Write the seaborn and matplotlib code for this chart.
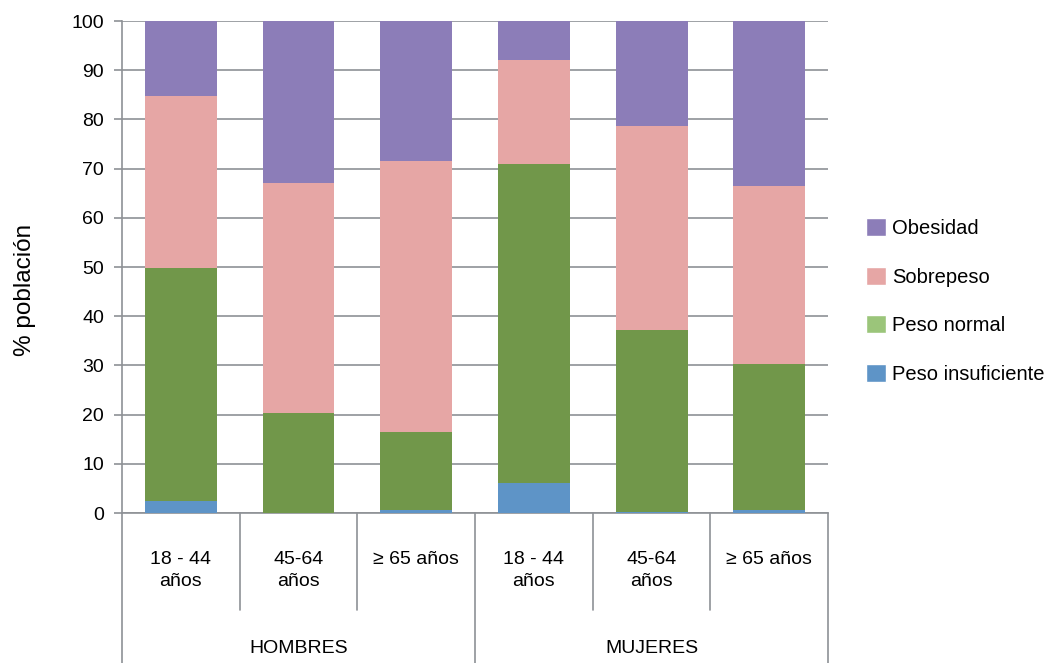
import matplotlib
matplotlib.use("Agg")
import matplotlib.pyplot as plt
from matplotlib.patches import Patch
import seaborn as sns
import pandas as pd
import numpy as np

grupos = ["H1", "H2", "H3", "M1", "M2", "M3"]
etiquetas = ["18 - 44\naños", "45-64\naños", "≥ 65 años", "18 - 44\naños", "45-64\naños", "≥ 65 años"]
sexos = ["HOMBRES", "MUJERES"]

insuficiente = [2.4, 0.1, 0.7, 6.1, 0.3, 0.6]
normal = [47.4, 20.2, 15.8, 64.8, 36.9, 29.7]
sobrepeso = [35.0, 46.8, 55.0, 21.2, 41.5, 36.2]
obesidad = [15.2, 32.9, 28.5, 7.9, 21.3, 33.5]

series = ["Peso insuficiente", "Peso normal", "Sobrepeso", "Obesidad"]
colores = {"Peso insuficiente": "#5E94C7", "Peso normal": "#71974A",
           "Sobrepeso": "#E6A6A5", "Obesidad": "#8C7DB8"}
colores_leyenda = {"Peso insuficiente": "#5E94C7", "Peso normal": "#9BC57A",
                   "Sobrepeso": "#E6A6A5", "Obesidad": "#8C7DB8"}

df = pd.DataFrame({"grupo": grupos, "Peso insuficiente": insuficiente,
                   "Peso normal": normal, "Sobrepeso": sobrepeso, "Obesidad": obesidad})
acum = df[series].cumsum(axis=1)
acum["grupo"] = df["grupo"]

sns.set_style("white")
plt.rcParams['font.family'] = ['Liberation Sans', 'DejaVu Sans']
plt.rcParams['text.color'] = 'black'
plt.rcParams['xtick.color'] = 'black'
plt.rcParams['ytick.color'] = 'black'
plt.rcParams['axes.labelcolor'] = 'black'

fig = plt.figure(figsize=(10.47, 6.63), dpi=100)
ax = fig.add_axes([0.1165, 0.2262, 0.6745, 0.7421])

gris = "#8E9196"
for s in reversed(series):
    sns.barplot(data=acum, x="grupo", y=s, color=colores[s], width=0.61,
                saturation=1, linewidth=0, ax=ax, zorder=3)

ax.set_ylim(0, 100)
ax.set_xlim(-0.5, 5.5)
ax.set_yticks(np.arange(0, 101, 10))
ax.yaxis.grid(True, color=gris, linewidth=1.2, zorder=0)
ax.set_axisbelow(True)
for side in ["top", "right"]:
    ax.spines[side].set_visible(False)
for side in ["left", "bottom"]:
    ax.spines[side].set_color(gris)
    ax.spines[side].set_linewidth(1.2)
ax.tick_params(axis="y", left=True, length=6, color=gris, width=1.2, labelsize=14,
               labelcolor="black", pad=7)
ax.set_ylabel("% población", fontsize=17.5)
ax.yaxis.set_label_coords(-0.122, 0.453)

ax.set_xlabel("")
ax.set_xticks(range(6))
ax.set_xticklabels(etiquetas, fontsize=14, linespacing=1.4)
ax.tick_params(axis="x", bottom=False, pad=24, labelcolor="black")

tr = ax.get_xaxis_transform()
for x in [-0.5, 2.5, 5.5]:
    ax.plot([x, x], [0, -0.31], transform=tr, color=gris, lw=1.2, clip_on=False)
for x in [0.5, 1.5, 3.5, 4.5]:
    ax.plot([x, x], [0, -0.197], transform=tr, color=gris, lw=1.2, clip_on=False)
for i, sx in enumerate(sexos):
    ax.text(1 + 3 * i, -0.275, sx, transform=tr, ha="center", va="center", fontsize=14)

handles = [Patch(facecolor=colores_leyenda[s], label=s) for s in reversed(series)]
fig.legend(handles=handles, loc="upper left", bbox_to_anchor=(0.8195, 0.683),
           frameon=False, fontsize=14.5, handlelength=1.0, handleheight=1.0,
           labelspacing=1.42, handletextpad=0.3, borderaxespad=0)

fig.savefig("out.png", dpi=100)
